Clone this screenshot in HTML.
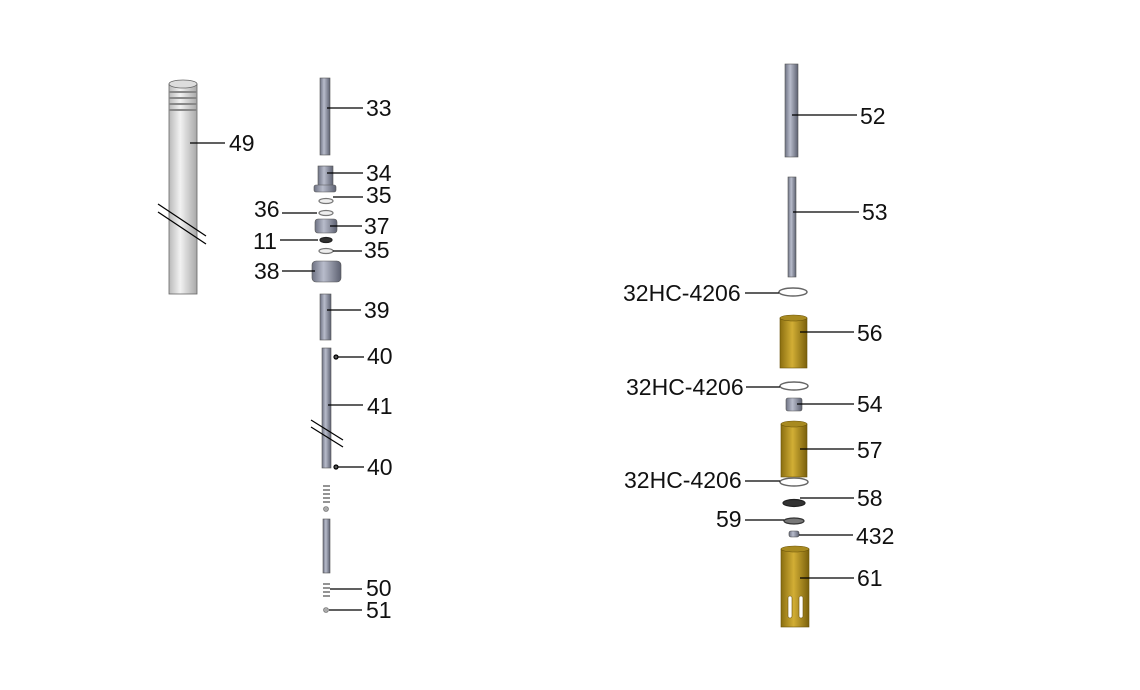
<!DOCTYPE html>
<html><head><meta charset="utf-8"><style>
html,body{margin:0;padding:0;background:#fff;}
svg{display:block}
text{font-family:"Liberation Sans",sans-serif;font-size:23px;fill:#111;}
</style></head><body>
<svg width="1140" height="690" viewBox="0 0 1140 690" xmlns="http://www.w3.org/2000/svg">
<defs>
<linearGradient id="w" x1="0" x2="1"><stop offset="0" stop-color="#b9b9b9"/><stop offset=".4" stop-color="#f2f2f2"/><stop offset="1" stop-color="#a8a8a8"/></linearGradient>
<linearGradient id="b" x1="0" x2="1"><stop offset="0" stop-color="#6e7283"/><stop offset=".4" stop-color="#b8bccb"/><stop offset="1" stop-color="#5d6171"/></linearGradient>
<linearGradient id="g" x1="0" x2="1"><stop offset="0" stop-color="#8a6e10"/><stop offset=".45" stop-color="#d2ae35"/><stop offset="1" stop-color="#7a600c"/></linearGradient>
</defs>
<g stroke="#000" stroke-width="1.2" fill="none">
<rect x="169" y="84" width="28" height="210" fill="url(#w)" stroke="#666" stroke-width=".8"/>
<ellipse cx="183" cy="84" rx="14" ry="4" fill="#ddd" stroke="#666" stroke-width=".8"/>
<g stroke="#888" stroke-width="2"><line x1="169" y1="92" x2="197" y2="92"/><line x1="169" y1="98" x2="197" y2="98"/><line x1="169" y1="104" x2="197" y2="104"/><line x1="169" y1="110" x2="197" y2="110"/></g>
<line x1="158" y1="204" x2="206" y2="236"/><line x1="158" y1="212" x2="206" y2="244"/>
<line x1="190" y1="143" x2="225" y2="143"/>
<rect x="320" y="78" width="10" height="77" fill="url(#b)" stroke="#555" stroke-width=".6"/>
<line x1="327" y1="108" x2="363" y2="108"/>
<rect x="318" y="166" width="15" height="22" fill="url(#b)" stroke="#555" stroke-width=".6"/>
<rect x="314" y="185" width="22" height="7" rx="2" fill="url(#b)" stroke="#555" stroke-width=".6"/>
<line x1="327" y1="173" x2="363" y2="173"/>
<ellipse cx="326" cy="201" rx="7" ry="2.5" stroke="#777" fill="#eee"/>
<line x1="333" y1="197" x2="363" y2="197"/>
<ellipse cx="326" cy="213" rx="7" ry="2.5" stroke="#777" fill="#eee"/>
<line x1="282" y1="213" x2="317" y2="213"/>
<rect x="315" y="219" width="22" height="14" rx="3" fill="url(#b)" stroke="#555" stroke-width=".6"/>
<line x1="330" y1="226" x2="362" y2="226"/>
<ellipse cx="326" cy="240" rx="6" ry="2.5" fill="#333" stroke="#222"/>
<line x1="280" y1="240" x2="318" y2="240"/>
<ellipse cx="326" cy="251" rx="7" ry="2.5" stroke="#777" fill="#eee"/>
<line x1="333" y1="251" x2="362" y2="251"/>
<rect x="312" y="261" width="29" height="21" rx="4" fill="url(#b)" stroke="#555" stroke-width=".6"/>
<line x1="282" y1="271" x2="315" y2="271"/>
<rect x="320" y="294" width="11" height="46" fill="url(#b)" stroke="#555" stroke-width=".6"/>
<line x1="327" y1="310" x2="361" y2="310"/>
<rect x="322" y="348" width="9" height="120" fill="url(#b)" stroke="#555" stroke-width=".6"/>
<line x1="311" y1="420" x2="343" y2="440"/><line x1="311" y1="427" x2="343" y2="447"/>
<line x1="328" y1="405" x2="363" y2="405"/>
<circle cx="336" cy="357" r="2" fill="#555"/><line x1="338" y1="357" x2="364" y2="357"/>
<circle cx="336" cy="467" r="2" fill="#555"/><line x1="338" y1="467" x2="364" y2="467"/>
<path d="M323 486h7M323 490h7M323 494h7M323 498h7M323 502h7" stroke="#555"/>
<circle cx="326" cy="509" r="2.5" fill="#aaa" stroke="#666" stroke-width=".6"/>
<rect x="323" y="519" width="7" height="54" fill="url(#b)" stroke="#555" stroke-width=".6"/>
<path d="M323 584h7M323 588h7M323 592h7M323 596h7" stroke="#555"/>
<line x1="330" y1="589" x2="362" y2="589"/>
<circle cx="326" cy="610" r="2.5" fill="#aaa" stroke="#666" stroke-width=".6"/>
<line x1="329" y1="610" x2="362" y2="610"/>
<rect x="785" y="64" width="13" height="93" fill="url(#b)" stroke="#555" stroke-width=".6"/>
<line x1="792" y1="115" x2="857" y2="115"/>
<rect x="788" y="177" width="8" height="100" fill="url(#b)" stroke="#555" stroke-width=".6"/>
<line x1="793" y1="212" x2="859" y2="212"/>
<ellipse cx="793" cy="292" rx="14" ry="4" stroke="#666" fill="none" stroke-width="1.5"/>
<line x1="745" y1="293" x2="779" y2="293"/>
<rect x="780" y="318" width="27" height="50" fill="url(#g)" stroke="#6a5208" stroke-width=".6"/>
<ellipse cx="793.5" cy="318" rx="13.5" ry="3" fill="#a88a20" stroke="#6a5208" stroke-width=".6"/>
<line x1="800" y1="332" x2="854" y2="332"/>
<ellipse cx="794" cy="386" rx="14" ry="4" stroke="#666" fill="none" stroke-width="1.5"/>
<line x1="746" y1="387" x2="780" y2="387"/>
<rect x="786" y="398" width="16" height="13" rx="2" fill="url(#b)" stroke="#555" stroke-width=".6"/>
<line x1="797" y1="404" x2="854" y2="404"/>
<rect x="781" y="424" width="26" height="53" fill="url(#g)" stroke="#6a5208" stroke-width=".6"/>
<ellipse cx="794" cy="424" rx="13" ry="3" fill="#a88a20" stroke="#6a5208" stroke-width=".6"/>
<line x1="800" y1="449" x2="854" y2="449"/>
<ellipse cx="794" cy="482" rx="14" ry="4" stroke="#666" fill="none" stroke-width="1.5"/>
<line x1="745" y1="481" x2="780" y2="481"/>
<ellipse cx="794" cy="503" rx="11" ry="3.5" fill="#333" stroke="#222"/>
<line x1="800" y1="498" x2="854" y2="498"/>
<ellipse cx="794" cy="521" rx="10" ry="3" fill="#777" stroke="#333"/>
<line x1="745" y1="520" x2="784" y2="520"/>
<rect x="789" y="531" width="10" height="6" rx="2" fill="url(#b)" stroke="#444" stroke-width=".6"/>
<line x1="799" y1="535" x2="853" y2="535"/>
<rect x="781" y="549" width="28" height="78" fill="url(#g)" stroke="#6a5208" stroke-width=".6"/>
<ellipse cx="795" cy="549" rx="14" ry="3" fill="#a88a20" stroke="#6a5208" stroke-width=".6"/>
<rect x="788" y="596" width="4" height="22" rx="2" fill="#fff" stroke="#6a5208" stroke-width=".6"/>
<rect x="799" y="596" width="4" height="22" rx="2" fill="#fff" stroke="#6a5208" stroke-width=".6"/>
<line x1="800" y1="578" x2="854" y2="578"/>
</g>
<text x="229" y="151">49</text>
<text x="366" y="116">33</text>
<text x="366" y="181">34</text>
<text x="366" y="203">35</text>
<text x="254" y="217">36</text>
<text x="364" y="234">37</text>
<text x="253" y="249">11</text>
<text x="364" y="258">35</text>
<text x="254" y="279">38</text>
<text x="364" y="318">39</text>
<text x="367" y="364">40</text>
<text x="367" y="414">41</text>
<text x="367" y="475">40</text>
<text x="366" y="596">50</text>
<text x="366" y="618">51</text>
<text x="860" y="124">52</text>
<text x="862" y="220">53</text>
<text x="623" y="301">32HC-4206</text>
<text x="857" y="341">56</text>
<text x="626" y="395">32HC-4206</text>
<text x="857" y="412">54</text>
<text x="857" y="458">57</text>
<text x="624" y="488">32HC-4206</text>
<text x="857" y="506">58</text>
<text x="716" y="527">59</text>
<text x="856" y="544">432</text>
<text x="857" y="586">61</text>
</svg>
</body></html>
